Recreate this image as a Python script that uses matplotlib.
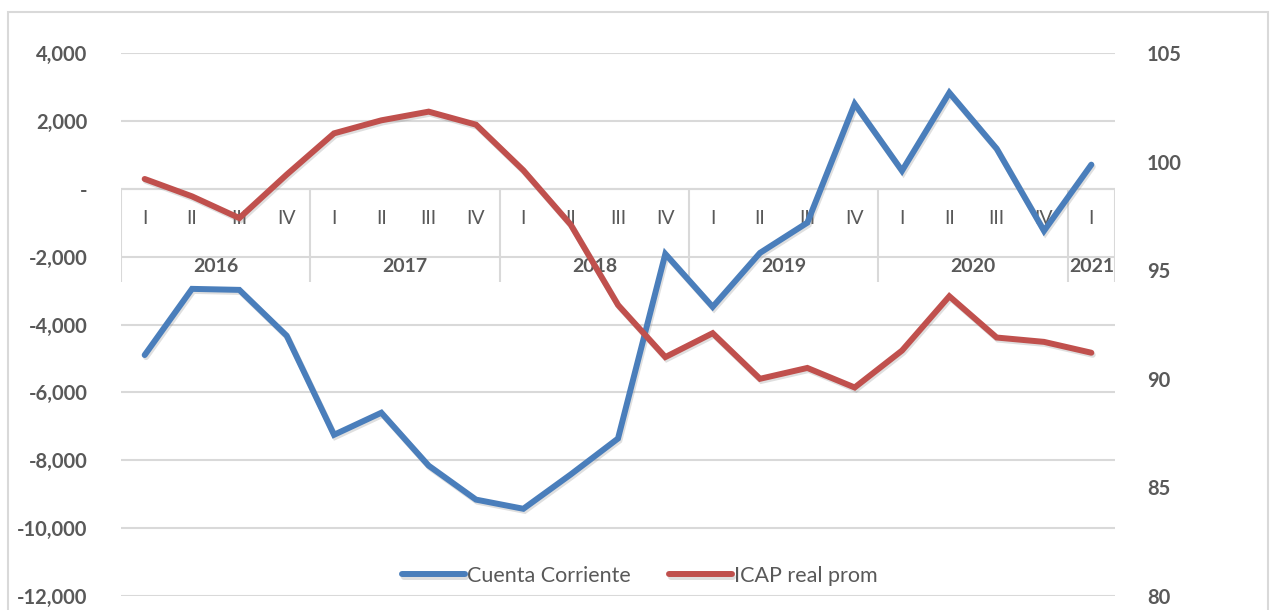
import matplotlib
matplotlib.use("Agg")
import matplotlib.pyplot as plt
import matplotlib.patheffects as pe
from matplotlib.patches import Rectangle
from matplotlib.ticker import FuncFormatter
import numpy as np

plt.rcParams['font.family'] = ['Lato', 'DejaVu Sans']

quarters = ["I", "II", "III", "IV"] * 5 + ["I"]
years = ["2016", "2017", "2018", "2019", "2020", "2021"]
year_counts = [4, 4, 4, 4, 4, 1]
cuenta = [-4900, -2950, -2980, -4330, -7250, -6600, -8160, -9160, -9430, -8420,
          -7360, -1920, -3480, -1890, -1000, 2500, 530, 2830, 1180, -1240, 710]
icap = [99.2, 98.4, 97.4, 99.4, 101.3, 101.9, 102.3, 101.7, 99.6, 97.1,
        93.4, 91.0, 92.1, 90.0, 90.5, 89.6, 91.3, 93.8, 91.9, 91.7, 91.2]
left_ticks = list(range(-12000, 4001, 2000))
right_ticks = list(range(80, 106, 5))

BLUE = "#4A7EBB"
RED = "#C0504D"
GRID = "#D9D9D9"
TXT = "#595959"

fig = plt.figure(figsize=(12.73, 6.10), dpi=100)
ax = fig.add_axes([121/1273, 1-596/610, (1115-121)/1273, (596-53)/610])
ax2 = ax.twinx()

x = np.arange(len(quarters))
ax.set_xlim(-0.5, len(quarters) - 0.5)
ax.set_ylim(-12000, 4000)
ax2.set_ylim(80, 105)
ax.set_yticks(left_ticks)
ax2.set_yticks(right_ticks)
ax.yaxis.set_major_formatter(FuncFormatter(lambda v, p: "-" if v == 0 else f"{v:,.0f}"))
ax.grid(axis='y', color=GRID, linewidth=1.5, zorder=0)
ax.set_axisbelow(True)
ax.set_xticks([])
for a in (ax, ax2):
    for s in a.spines.values():
        s.set_visible(False)
    a.tick_params(length=0, labelsize=14.5, labelcolor=TXT)
for lab in ax.get_yticklabels() + ax2.get_yticklabels():
    lab.set_fontweight('bold')
ax.tick_params(axis='y', pad=24)
ax2.tick_params(axis='y', pad=23)

# category axis at zero
ax.axhline(0, color=GRID, linewidth=1.5, zorder=1)
bounds = np.concatenate([[0], np.cumsum(year_counts)]) - 0.5
ax.vlines(bounds, -2740, 0, color=GRID, linewidth=1.5, zorder=1)
for xi, q in zip(x, quarters):
    ax.text(xi, -884, q, ha='center', va='center', fontsize=14, color=TXT, zorder=2)
for i, yr in enumerate(years):
    ax.text((bounds[i] + bounds[i+1]) / 2, -2300, yr, ha='center', va='center',
            fontsize=14, color=TXT, fontweight='bold', zorder=2)

shadow = [pe.SimpleLineShadow(offset=(1, -1.5), alpha=0.25, shadow_color='gray'), pe.Normal()]
l1, = ax.plot(x, cuenta, color=BLUE, linewidth=4.3, solid_capstyle='round',
              solid_joinstyle='miter', label="Cuenta Corriente", zorder=5, path_effects=shadow)
l2, = ax2.plot(x, icap, color=RED, linewidth=4.3, solid_capstyle='round',
               solid_joinstyle='miter', label="ICAP real prom", zorder=5, path_effects=shadow)

leg = fig.legend(handles=[l1, l2], loc='center', bbox_to_anchor=(640/1273, 1-576/610),
                 ncol=2, frameon=False, fontsize=15.5, handlelength=2.9, handletextpad=0.1,
                 columnspacing=1.8)
for t in leg.get_texts():
    t.set_color(TXT)

fig.patches.append(Rectangle((8/1273, -0.1), (1268-8)/1273, 1.1 - 12/610,
                             transform=fig.transFigure, fill=False,
                             edgecolor=GRID, linewidth=1.5))

fig.savefig("out.png", dpi=100)
